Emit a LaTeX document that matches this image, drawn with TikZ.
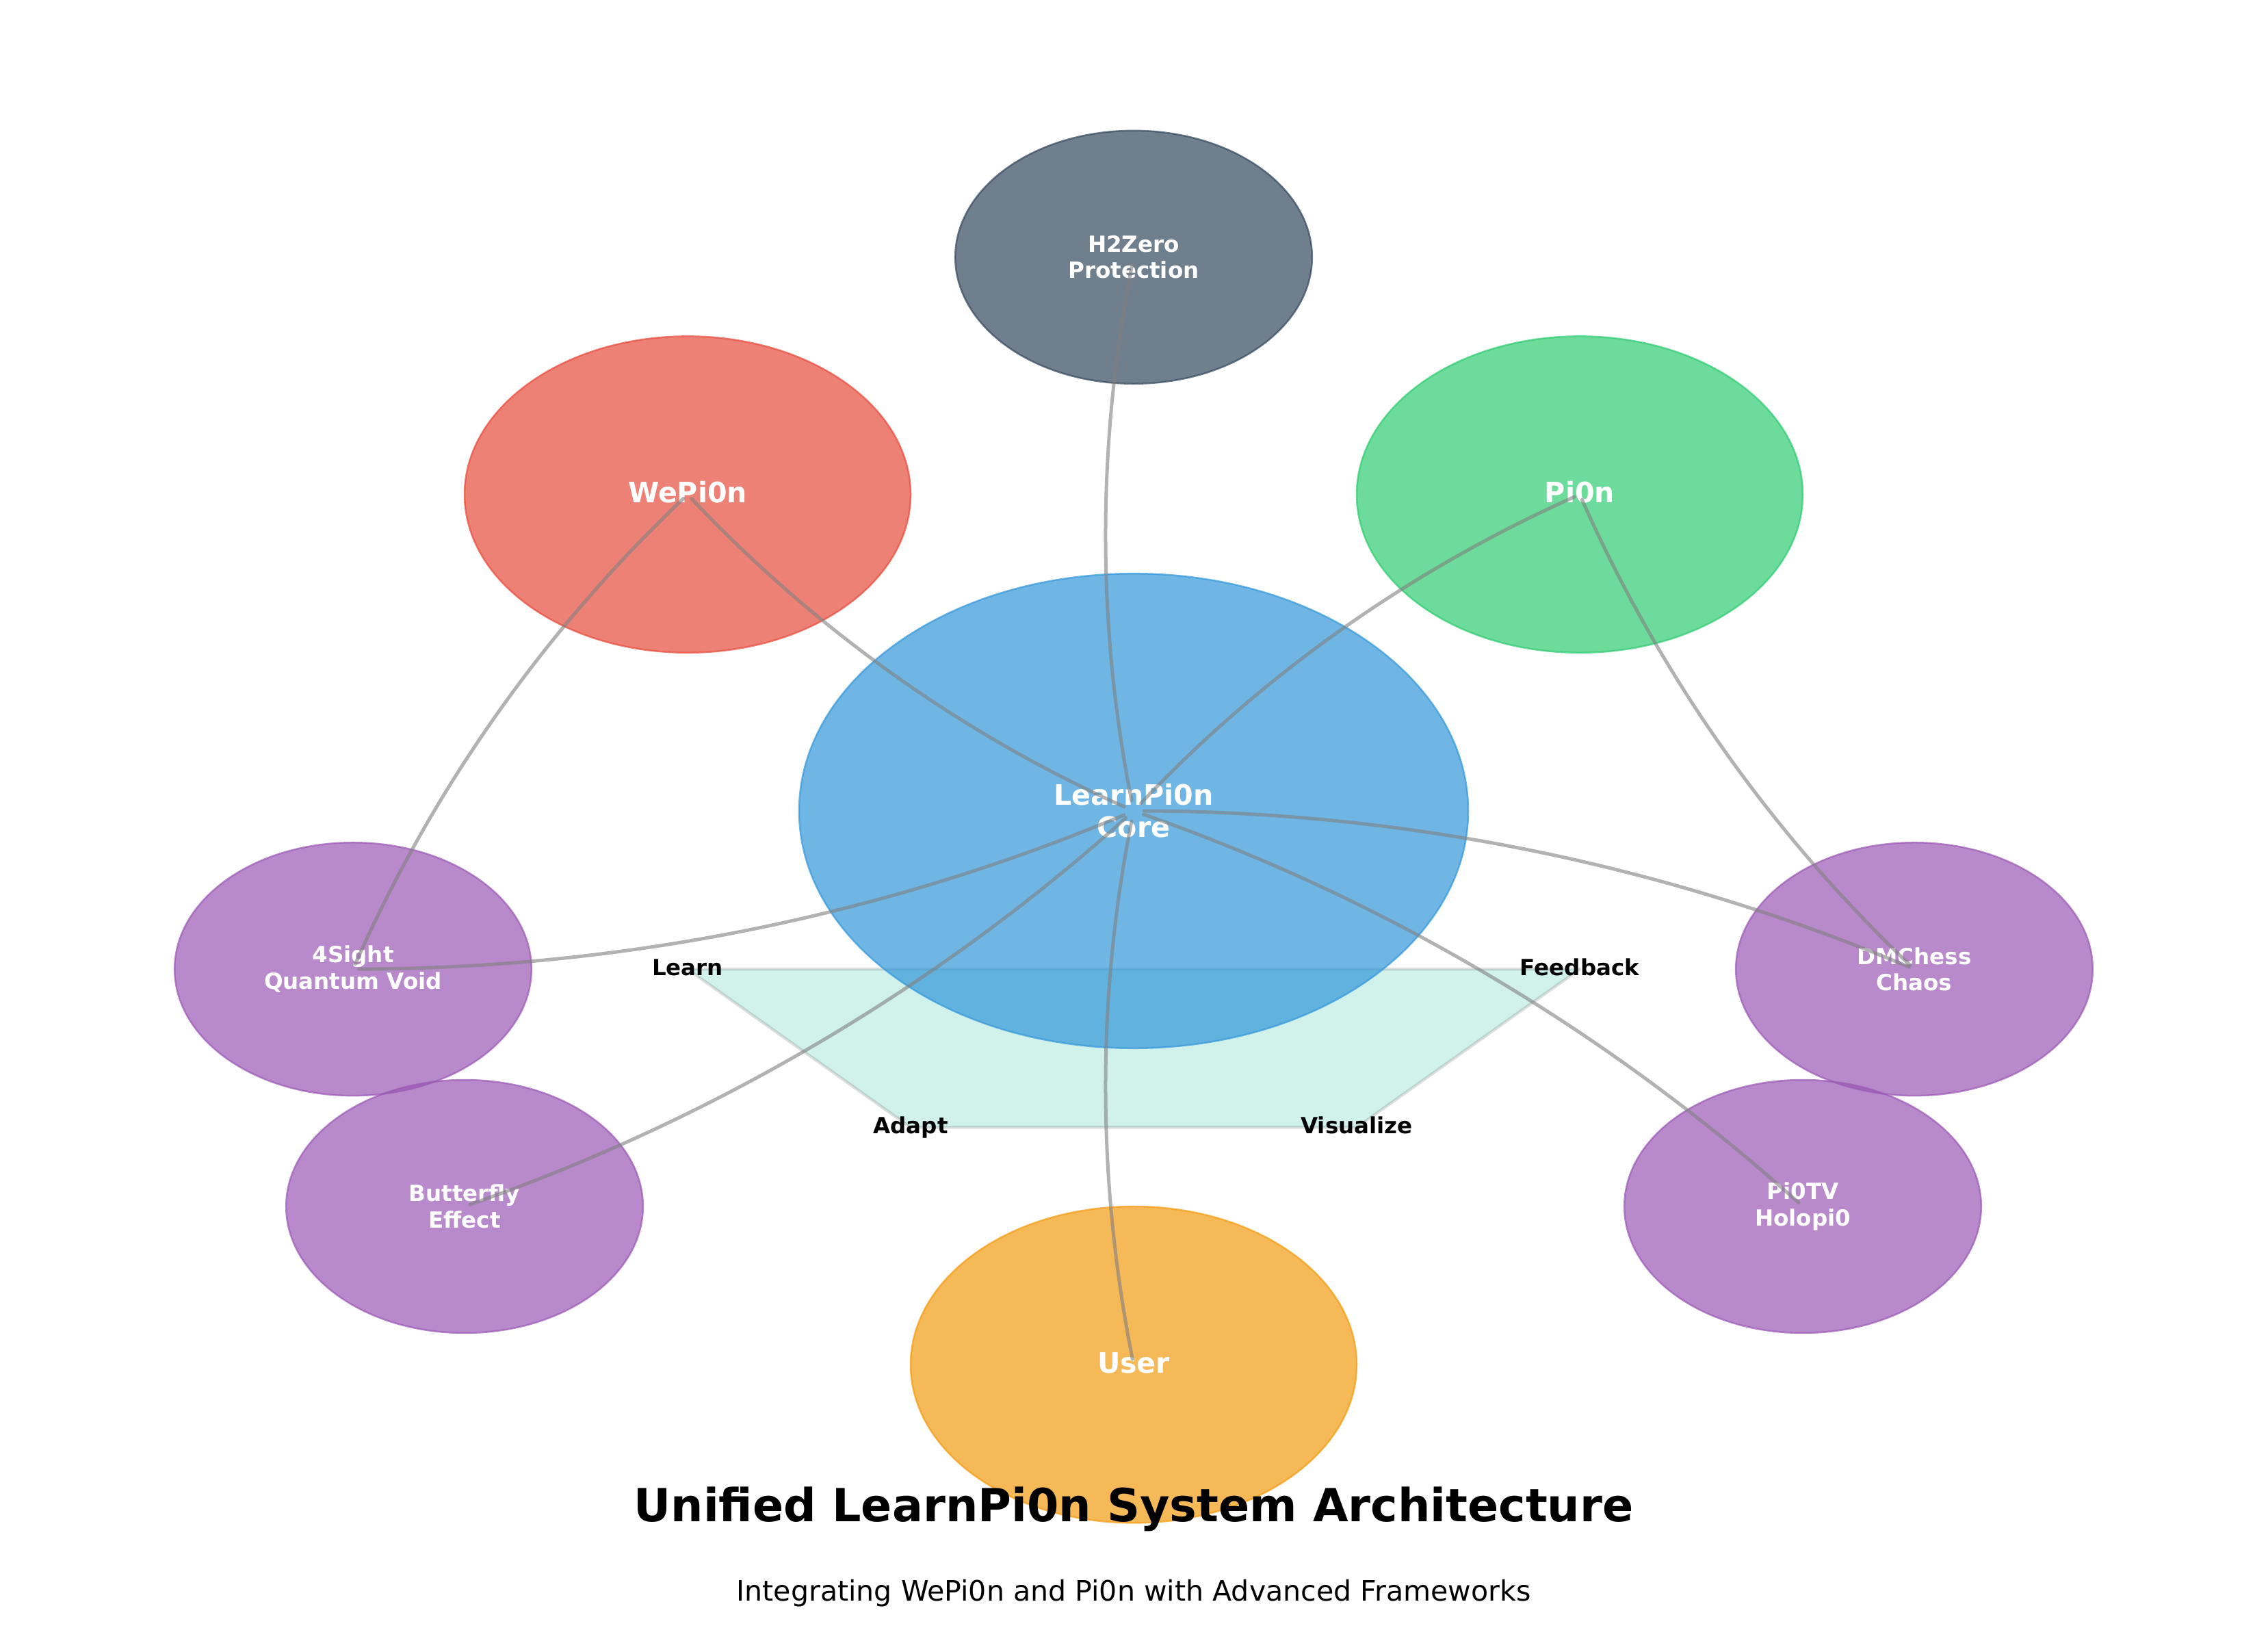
\documentclass[tikz,border=0pt]{standalone}
\usepackage{fontspec}
\setmainfont{DejaVu Sans}
\usetikzlibrary{shapes.geometric,calc}
\definecolor{ccore}{HTML}{3498DB}
\definecolor{cslate}{HTML}{34495E}
\definecolor{cred}{HTML}{E74C3C}
\definecolor{cgreen}{HTML}{2ECC71}
\definecolor{cpurple}{HTML}{9B59B6}
\definecolor{corange}{HTML}{F39C12}
\definecolor{cteal}{HTML}{1ABC9C}
\newcommand{\fmain}{\fontsize{14.8pt}{17pt}\selectfont\bfseries}
\newcommand{\fsmall}{\fontsize{11.7pt}{13.9pt}\selectfont\bfseries}
\newcommand{\ftitle}{\fontsize{24pt}{28pt}\selectfont\bfseries}
\newcommand{\fsub}{\fontsize{14.8pt}{17pt}\selectfont}
\newcommand{\arcconn}[4]{%
  \coordinate (#4) at ($(#1.center)!0.5!(#2.center)!0.2!-90:(#2.center)$);
  \draw[conn,#3] (#1.center) .. controls ($(#1.center)!2/3!(#4)$) and ($(#2.center)!2/3!(#4)$) .. (#2.center);}
\tikzset{
  blob/.style={ellipse, inner sep=0pt, fill opacity=0.7, draw opacity=0.7, text opacity=1, line width=0.9pt, text=white},
  multi/.style={align=center},
  coresize/.style={minimum width=352.08pt, minimum height=249.70pt},
  midsize/.style={minimum width=234.72pt, minimum height=166.46pt},
  smallsize/.style={minimum width=187.78pt, minimum height=133.17pt},
  conn/.style={draw=gray, draw opacity=0.6, line width=1.8pt, line cap=round},
  cyclelbl/.style={font=\fsmall, text=black, inner sep=0pt, text height=9.3pt, text depth=2.8pt, anchor=center},
  onel/.style={text height=11.8pt, text depth=2.9pt},
}
\begin{document}
\begin{tikzpicture}[x=58.68pt, y=41.616pt]
\useasboundingbox (-10.166,-10.329) rectangle (10.172,10.251);
\fill[white] (-10.166,-10.329) rectangle (10.172,10.251);
% feedback cycle polygon
\coordinate (pl) at (-4,-2);
\coordinate (pf) at (4,-2);
\coordinate (pv) at (2,-4);
\coordinate (pa) at (-2,-4);
\filldraw[fill=cteal, fill opacity=0.2, draw=gray, draw opacity=0.25, line width=1.6pt, line join=round] (pl) -- (pf) -- (pv) -- (pa) -- cycle;
% nodes
\node[blob, multi, coresize, fill=ccore, draw=ccore, font=\fmain] (core) at (0,0) {LearnPi0n\\Core};
\node[blob, multi, smallsize, fill=cslate, draw=cslate, font=\fsmall] (h2) at (0,7) {H2Zero\\Protection};
\node[blob, midsize, fill=cred, draw=cred, font=\fmain, onel] (wepi) at (-4,4) {WePi0n};
\node[blob, midsize, fill=cgreen, draw=cgreen, font=\fmain, onel] (pion) at (4,4) {Pi0n};
\node[blob, multi, smallsize, fill=cpurple, draw=cpurple, font=\fsmall] (four) at (-7,-2) {4Sight\\Quantum Void};
\node[blob, multi, smallsize, fill=cpurple, draw=cpurple, font=\fsmall] (bfly) at (-6,-5) {Butterfly\\Effect};
\node[blob, multi, smallsize, fill=cpurple, draw=cpurple, font=\fsmall] (dmc) at (7,-2) {DMChess\\Chaos};
\node[blob, multi, smallsize, fill=cpurple, draw=cpurple, font=\fsmall] (ptv) at (6,-5) {Pi0TV\\Holopi0};
\node[blob, midsize, fill=corange, draw=corange, font=\fmain, onel] (user) at (0,-7) {User};
% connectors
\arcconn{h2}{core}{shorten <=3pt, shorten >=5.5pt}{q1}
\arcconn{core}{user}{shorten <=5.5pt, shorten >=3pt}{q2}
\arcconn{wepi}{core}{shorten <=3pt, shorten >=5.5pt}{q3}
\arcconn{wepi}{four}{shorten <=3pt, shorten >=3pt}{q4}
\arcconn{pion}{core}{shorten <=3pt, shorten >=5.5pt}{q5}
\arcconn{pion}{dmc}{shorten <=3pt, shorten >=3pt}{q6}
\arcconn{four}{core}{shorten <=3pt, shorten >=5.5pt}{q7}
\arcconn{bfly}{core}{shorten <=3pt, shorten >=5.5pt}{q8}
\arcconn{dmc}{core}{shorten <=3pt, shorten >=5.5pt}{q9}
\arcconn{ptv}{core}{shorten <=3pt, shorten >=5.5pt}{q10}
% cycle labels
\node[cyclelbl] (llearn) at (pl) {Learn};
\node[cyclelbl] (lfeed) at (pf) {Feedback};
\node[cyclelbl] (lvis) at (pv) {Visualize};
\node[cyclelbl] (ladapt) at (pa) {Adapt};
% titles
\node[anchor=base, font=\ftitle, inner sep=0pt] (title) at (0,-8.988) {Unified LearnPi0n System Architecture};
\node[anchor=base, font=\fsub, inner sep=0pt] (subtitle) at (0,-9.983) {Integrating WePi0n and Pi0n with Advanced Frameworks};
\end{tikzpicture}
\end{document}
